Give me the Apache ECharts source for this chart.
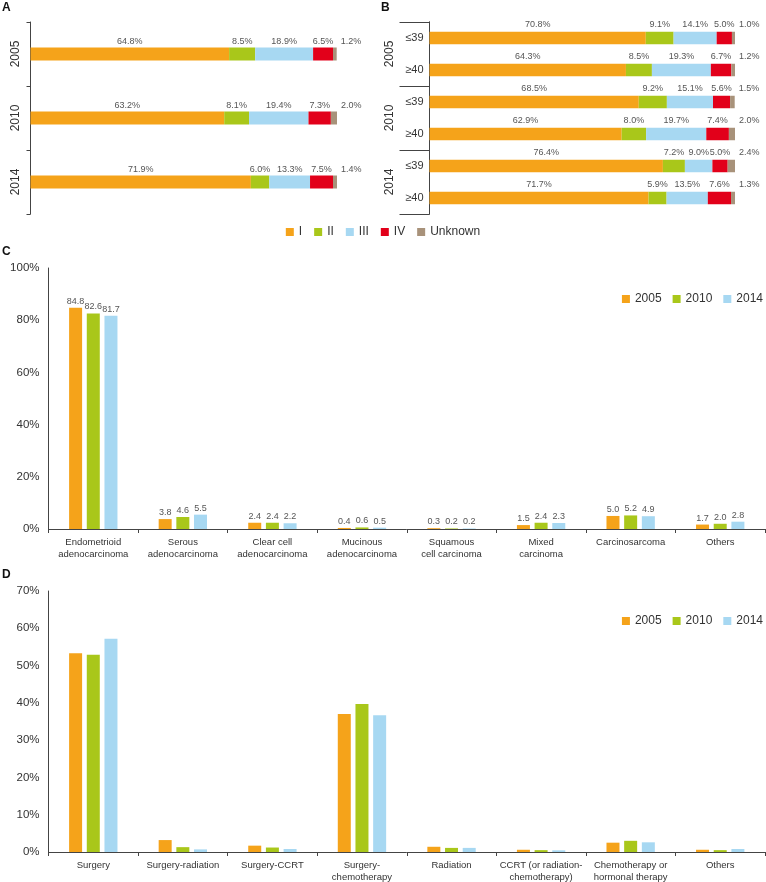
<!DOCTYPE html>
<html>
<head>
<meta charset="utf-8">
<script src="https://cdn.jsdelivr.net/npm/echarts@6/dist/echarts.min.js"></script>
<style>
html,body{margin:0;padding:0;background:#fff;}
#chart{width:766px;height:882px;}
</style>
</head>
<body>
<div id="chart"></div>
<script>
// ---------- Data ----------
const stages = ['I', 'II', 'III', 'IV', 'Unknown'];
const yearsA = ['2005', '2010', '2014'];
// Panel A: stage distribution by year (%), per stage
const stageA_I = [64.8, 63.2, 71.9];
const stageA_II = [8.5, 8.1, 6.0];
const stageA_III = [18.9, 19.4, 13.3];
const stageA_IV = [6.5, 7.3, 7.5];
const stageA_Unk = [1.2, 2.0, 1.4];

// Panel B: stage distribution by year and age group (%)
const yearsB = ['2005', '2010', '2014'];
const ageGroups = ['≤39', '≥40'];
const stageB_I = [70.8, 64.3, 68.5, 62.9, 76.4, 71.7];
const stageB_II = [9.1, 8.5, 9.2, 8.0, 7.2, 5.9];
const stageB_III = [14.1, 19.3, 15.1, 19.7, 9.0, 13.5];
const stageB_IV = [5.0, 6.7, 5.6, 7.4, 5.0, 7.6];
const stageB_Unk = [1.0, 1.2, 1.5, 2.0, 2.4, 1.3];

// Panel C: histology (%)
const histCategories = ['Endometrioid\nadenocarcinoma', 'Serous\nadenocarcinoma', 'Clear cell\nadenocarcinoma',
  'Mucinous\nadenocarcinoma', 'Squamous\ncell carcinoma', 'Mixed\ncarcinoma', 'Carcinosarcoma', 'Others'];
const hist2005 = [84.8, 3.8, 2.4, 0.4, 0.3, 1.5, 5.0, 1.7];
const hist2010 = [82.6, 4.6, 2.4, 0.6, 0.2, 2.4, 5.2, 2.0];
const hist2014 = [81.7, 5.5, 2.2, 0.5, 0.2, 2.3, 4.9, 2.8];
const histTicks = [0, 20, 40, 60, 80, 100];

// Panel D: treatment (%)
const treatCategories = ['Surgery', 'Surgery-radiation', 'Surgery-CCRT', 'Surgery-\nchemotherapy', 'Radiation',
  'CCRT (or radiation-\nchemotherapy)', 'Chemotherapy or\nhormonal therapy', 'Others'];
const treat2005 = [53.3, 3.2, 1.7, 37.0, 1.4, 0.6, 2.5, 0.6];
const treat2010 = [52.9, 1.3, 1.2, 39.7, 1.1, 0.5, 3.0, 0.5];
const treat2014 = [57.2, 0.7, 0.8, 36.7, 1.1, 0.45, 2.6, 0.8];
const treatTicks = [0, 10, 20, 30, 40, 50, 60, 70];

const yearNames = ['2005', '2010', '2014'];

// ---------- Style ----------
const stageColors = ['#F5A31A', '#A9C71A', '#A7D8F2', '#E2001A', '#A8927A'];
const yearColors = ['#F5A31A', '#A9C71A', '#A7D8F2'];
const FONT = 'Liberation Sans, Arial, sans-serif';
const axisColor = '#444';
const textColor = '#333';

const stageA = [stageA_I, stageA_II, stageA_III, stageA_IV, stageA_Unk];
const stageB = [stageB_I, stageB_II, stageB_III, stageB_IV, stageB_Unk];
const histYears = [hist2005, hist2010, hist2014];
const treatYears = [treat2005, treat2010, treat2014];

const pct = p => p.value.toFixed(1) + '%';

function stageSeries(dataArr, axisIdx, barW, unkOffset, topDist) {
  return dataArr.map((d, i) => ({
    name: stages[i],
    type: 'bar',
    stack: 'stage' + axisIdx,
    xAxisIndex: axisIdx,
    yAxisIndex: axisIdx,
    barWidth: barW,
    data: d,
    itemStyle: { color: stageColors[i] },
    label: i === 4 ? {
      show: true, position: 'right', distance: 4, offset: [0, unkOffset],
      formatter: pct, fontSize: 9, color: '#555', fontFamily: FONT
    } : {
      show: true, position: 'top', distance: topDist,
      formatter: pct, fontSize: 9, color: '#555', fontFamily: FONT
    },
    emphasis: { disabled: true },
    animation: false
  }));
}

const yearCatB = [];
yearsB.forEach(y => ageGroups.forEach(a => yearCatB.push(y + ' ' + a)));
const ageLabels = yearCatB.map(s => s.split(' ')[1]);

function groupedSeries(arrs, axisIdx, withLabels) {
  return arrs.map((d, i) => ({
    name: yearNames[i],
    type: 'bar',
    xAxisIndex: axisIdx,
    yAxisIndex: axisIdx,
    barWidth: 13,
    barGap: '36%',
    data: d,
    itemStyle: { color: yearColors[i] },
    label: withLabels ? {
      show: true, position: 'top', distance: 2,
      formatter: p => p.value.toFixed(1), fontSize: 9, color: '#555', fontFamily: FONT
    } : { show: false },
    emphasis: { disabled: true },
    animation: false
  }));
}

const legendBase = { itemWidth: 8, itemHeight: 8, icon: 'rect', padding: 0, selectedMode: false,
  textStyle: { fontSize: 12, color: textColor, fontFamily: FONT } };

const chart = echarts.init(document.getElementById('chart'));
const option = {
  backgroundColor: '#fff',
  animation: false,
  textStyle: { fontFamily: FONT },
  title: [
    { text: 'A', left: 2, top: 2, padding: 0, textStyle: { fontSize: 12, fontWeight: 'bold', color: '#111', fontFamily: FONT } },
    { text: 'B', left: 381, top: 2, padding: 0, textStyle: { fontSize: 12, fontWeight: 'bold', color: '#111', fontFamily: FONT } },
    { text: 'C', left: 2, top: 246, padding: 0, textStyle: { fontSize: 12, fontWeight: 'bold', color: '#111', fontFamily: FONT } },
    { text: 'D', left: 2, top: 569, padding: 0, textStyle: { fontSize: 12, fontWeight: 'bold', color: '#111', fontFamily: FONT } }
  ],
  legend: [
    Object.assign({ data: stages, left: 'center', top: 226, itemGap: 12 }, legendBase),
    Object.assign({ data: yearNames, right: 3, top: 293, itemGap: 11 }, legendBase),
    Object.assign({ data: yearNames, right: 3, top: 615, itemGap: 11 }, legendBase)
  ],
  grid: [
    { left: 30.5, top: 22, width: 306.5, height: 192, containLabel: false, outerBoundsMode: 'none' },
    { left: 429.5, top: 22, width: 305.5, height: 192, containLabel: false, outerBoundsMode: 'none' },
    { left: 48.5, top: 268, width: 716.5, height: 261, containLabel: false, outerBoundsMode: 'none' },
    { left: 48.5, top: 591, width: 716.5, height: 261, containLabel: false, outerBoundsMode: 'none' }
  ],
  xAxis: [
    { type: 'value', gridIndex: 0, min: 0, max: 100, show: false },
    { type: 'value', gridIndex: 1, min: 0, max: 100, show: false },
    { type: 'category', gridIndex: 2, data: histCategories,
      axisLine: { lineStyle: { color: axisColor, width: 1 } },
      axisTick: { show: true, length: 4, lineStyle: { color: axisColor } },
      axisLabel: { interval: 0, fontSize: 9.5, color: textColor, margin: 7, lineHeight: 12.5, fontFamily: FONT } },
    { type: 'category', gridIndex: 3, data: treatCategories,
      axisLine: { lineStyle: { color: axisColor, width: 1 } },
      axisTick: { show: true, length: 4, lineStyle: { color: axisColor } },
      axisLabel: { interval: 0, fontSize: 9.5, color: textColor, margin: 7, lineHeight: 12.5, fontFamily: FONT } }
  ],
  yAxis: [
    { type: 'category', gridIndex: 0, data: yearsA, inverse: true, position: 'left',
      axisLine: { lineStyle: { color: axisColor } },
      axisTick: { show: true, length: 4, lineStyle: { color: axisColor } },
      axisLabel: { rotate: 90, fontSize: 12, color: textColor, margin: 9, fontFamily: FONT } },
    { type: 'category', gridIndex: 1, data: yearCatB, inverse: true, position: 'left',
      axisLine: { lineStyle: { color: axisColor } },
      axisTick: { show: false },
      axisLabel: { fontSize: 11, color: textColor, margin: 6, fontFamily: FONT,
        formatter: (v, i) => ageLabels[i] } },
    { type: 'value', gridIndex: 2, min: histTicks[0], max: histTicks[histTicks.length - 1], interval: 20, position: 'left',
      axisLine: { show: true, lineStyle: { color: axisColor } },
      axisTick: { show: false }, splitLine: { show: false },
      axisLabel: { formatter: '{value}%', fontSize: 11.5, color: textColor, margin: 9, fontFamily: FONT } },
    { type: 'value', gridIndex: 3, min: treatTicks[0], max: treatTicks[treatTicks.length - 1], interval: 10, position: 'left',
      axisLine: { show: true, lineStyle: { color: axisColor } },
      axisTick: { show: false }, splitLine: { show: false },
      axisLabel: { formatter: '{value}%', fontSize: 11.5, color: textColor, margin: 9, fontFamily: FONT } },
    // Panel B year groups (separators + rotated year labels)
    { type: 'category', gridIndex: 1, data: yearsB, inverse: true, position: 'left', offset: 0,
      axisLine: { show: true, lineStyle: { color: axisColor } },
      axisTick: { show: true, length: 30, lineStyle: { color: axisColor } },
      axisLabel: { rotate: 90, fontSize: 12, color: textColor, margin: 34, fontFamily: FONT } }
  ],
  series: [].concat(
    stageSeries(stageA, 0, 13, -12, 1),
    stageSeries(stageB, 1, 12.5, -13, 2.5),
    groupedSeries(histYears, 2, true),
    groupedSeries(treatYears, 3, false)
  )
};
chart.setOption(option);
</script>
</body>
</html>
